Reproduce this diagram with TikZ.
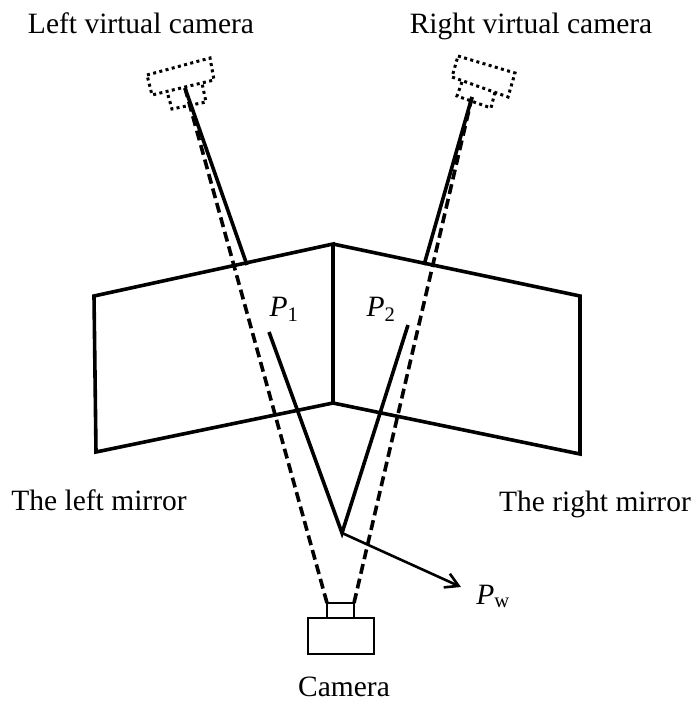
\documentclass[tikz,border=0pt]{standalone}
\usepackage{fontspec}
\setmainfont{Liberation Serif}
\usetikzlibrary{arrows.meta}
\tikzset{
  mirror/.style={line width=3.6pt, line join=miter},
  cambox/.style={line width=2.6pt},
  virtbox/.style={line width=3pt, dash pattern=on 3pt off 3.4pt},
  sight/.style={line width=3.6pt, dash pattern=on 10pt off 5pt},
  ray/.style={line width=3.6pt},
  lbl/.style={font=\fontsize{29.5}{34}\selectfont, inner sep=0pt, anchor=base},
}
\begin{document}
\begin{tikzpicture}[x=1pt,y=-1pt]
  \useasboundingbox (0,0) rectangle (700,707);
  % Mirrors
  \coordinate (top) at (333,244);
  \coordinate (bot) at (333,403);
  \draw[mirror] (top) -- (94,296) -- (96,452) -- (bot) -- cycle;
  \draw[mirror] (top) -- (580,296) -- (580,454) -- (bot);
  % Virtual cameras
  \draw[virtbox] (147,75) -- (210,58) -- (214,80) -- (152,95) -- cycle;
  \draw[virtbox] (168,95) -- (172,109) -- (206,102) -- (202,83);
  \draw[virtbox] (458,56) -- (515,73) -- (508,97) -- (452,77) -- cycle;
  \draw[virtbox] (462,82) -- (457,96) -- (491,108) -- (495,92);
  % Real camera
  \draw[cambox] (308,618) rectangle (374,654);
  \draw[cambox] (327,618) -- (327,603) -- (354,603) -- (354,618);
  % Lines of sight
  \coordinate (lens-l) at (327,603);
  \coordinate (lens-r) at (354,603);
  \coordinate (virt-l) at (185,88);
  \coordinate (virt-r) at (472,97);
  \coordinate (hit-l) at (247,265);
  \coordinate (hit-r) at (424,265);
  \draw[ray] (virt-l) -- (hit-l);
  \draw[ray] (virt-r) -- (hit-r);
  \draw[sight] (lens-l) -- (virt-l);
  \draw[sight] (lens-r) -- (virt-r);
  % Image points
  \coordinate (p1) at (269,332);
  \coordinate (p2) at (408,325);
  \coordinate (pw) at (342,533);
  \coordinate (tip) at (461,587);
  \draw[ray] (p1) -- (pw) -- (p2);
  \draw[line width=2.6pt, -{Straight Barb[length=13pt,width=15pt]}] (pw) -- (tip);
  % Labels
  \node[lbl] (leftcam) at (141,33) {Left virtual camera};
  \node[lbl] (rightcam) at (531,33) {Right virtual camera};
  \node[lbl] (leftmirror) at (99,510) {The left mirror};
  \node[lbl] (rightmirror) at (595,511) {The right mirror};
  \node[lbl] (camlabel) at (344,696) {Camera};
  \node[lbl] (p1label) at (284,316) {$\mathit{P}_{\mathrm{1}}$};
  \node[lbl] (p2label) at (381,316) {$\mathit{P}_{\mathrm{2}}$};
  \node[lbl] (pwlabel) at (493,604) {$\mathit{P}_{\mathrm{w}}$};
\end{tikzpicture}
\end{document}
